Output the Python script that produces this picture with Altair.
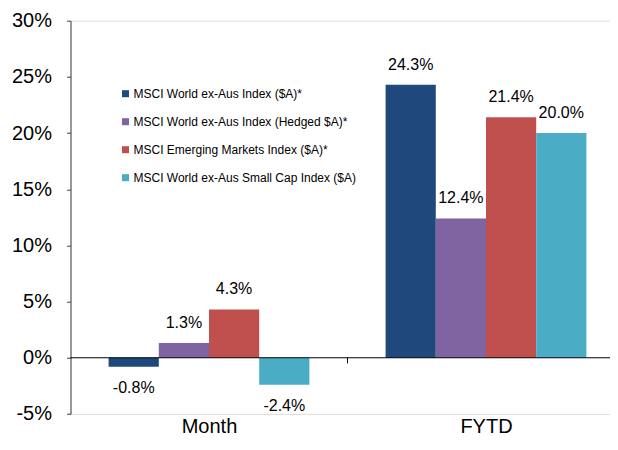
import json
import altair as alt
import pandas as pd

categories = ["Month", "FYTD"]
series = [
    "MSCI World ex-Aus Index ($A)*",
    "MSCI World ex-Aus Index (Hedged $A)*",
    "MSCI Emerging Markets Index ($A)*",
    "MSCI World ex-Aus Small Cap Index ($A)",
]
month_values = [-0.8, 1.3, 4.3, -2.4]
fytd_values = [24.3, 12.4, 21.4, 20.0]
colors = ["#1F497D", "#8064A2", "#C0504D", "#4BACC6"]
y_ticks = [-5, 0, 5, 10, 15, 20, 25, 30]

rows = []
for ci, (cat, vals) in enumerate(zip(categories, [month_values, fytd_values])):
    for si, (s, v) in enumerate(zip(series, vals)):
        rows.append({"cat": cat, "ci": ci, "series": s, "si": si, "value": v})
df = pd.DataFrame(rows)

FONT = "Liberation Sans"
PLOT_W = 539.5
STEP = 277.0          # pixel width of one category slot
BAR_W = 50.2 / STEP   # bar width in category units
n_series = len(series)

x_scale = alt.Scale(domain=[0, PLOT_W / STEP], nice=False, zero=False)
x_axis = alt.Axis(title=None, domain=False, ticks=False, grid=False, labelAngle=0,
                  values=[i + 0.5 for i in range(len(categories))],
                  labelExpr=f"{json.dumps(categories)}[floor(datum.value)]",
                  labelFontSize=20, labelColor="#000000", labelFont=FONT,
                  labelBaseline="alphabetic", labelPadding=19, labelFlush=False)
y_scale = alt.Scale(domain=[-5, 30], nice=False, zero=False)
y_axis = alt.Axis(title=None, values=y_ticks, labelExpr="datum.value + '%'",
                  grid=False, domain=True, domainColor="#404040", tickColor="#404040",
                  tickSize=4, labelPadding=15, labelFontSize=20,
                  labelColor="#000000", labelFont=FONT)

base = alt.Chart(df).transform_calculate(
    x0=f"datum.ci + 0.5 + (datum.si - {n_series / 2}) * {BAR_W}",
).transform_calculate(
    x1=f"datum.x0 + {BAR_W}",
    xc=f"datum.x0 + {BAR_W / 2}",
    label="(datum.value < 0 ? '-' : '') + format(abs(datum.value), '.1f') + '%'",
)

bars = base.mark_bar().encode(
    x=alt.X("x0:Q", scale=x_scale, axis=x_axis),
    x2="x1:Q",
    y=alt.Y("value:Q", scale=y_scale, axis=y_axis),
    y2=alt.datum(0),
    color=alt.Color("series:N", scale=alt.Scale(domain=series, range=colors),
                    legend=alt.Legend(title=None, orient="none", legendX=49, legendY=67,
                                      symbolType="square", symbolSize=49, symbolStrokeWidth=0,
                                      labelOffset=2, labelFontSize=12, labelFont=FONT,
                                      labelColor="#000000", rowPadding=16, padding=0,
                                      labelLimit=400)),
)

pos_text = base.transform_filter("datum.value >= 0").mark_text(
    dy=-20, baseline="middle", align="center", fontSize=16, font=FONT, color="#000000"
).encode(x=alt.X("xc:Q"), y="value:Q", text="label:N")

neg_text = base.transform_filter("datum.value < 0").mark_text(
    dy=21, baseline="middle", align="center", fontSize=16, font=FONT, color="#000000"
).encode(x=alt.X("xc:Q"), y="value:Q", text="label:N")

zero_rule = alt.Chart(pd.DataFrame({"z": [0]})).mark_rule(color="#000000", strokeWidth=1.2).encode(
    x=alt.value(0), x2=alt.value(PLOT_W),
    y=alt.Y("z:Q"),
)

divider = alt.Chart(pd.DataFrame({"b": [1], "a": [0], "c": [-0.5]})).mark_rule(
    color="#000000", strokeWidth=1
).encode(
    x=alt.X("b:Q"),
    y="a:Q",
    y2="c:Q",
)

chart = alt.layer(bars, zero_rule, divider, pos_text, neg_text).properties(
    width=PLOT_W,
    height=393.2,
    autosize=alt.AutoSizeParams(type="none"),
    padding={"left": 62.5, "top": 12.7, "right": 0, "bottom": 24.1},
).configure_view(stroke=None).configure(background="#ffffff")

chart.save("out.html", embed_options={"renderer": "svg", "actions": False})
